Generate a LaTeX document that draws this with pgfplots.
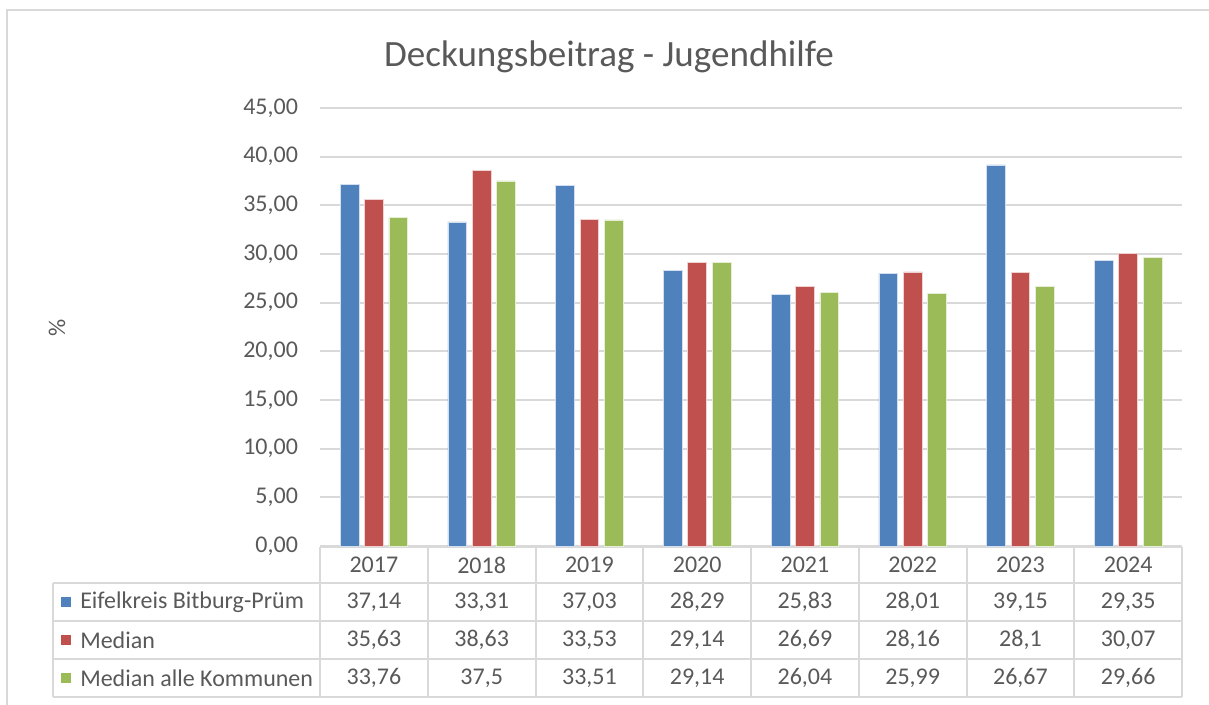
\documentclass[border=0pt]{standalone}
\usepackage{pgfplots}
\pgfplotsset{compat=1.18}
\usepackage{fontspec}
\setmainfont{Carlito}
\definecolor{cblue}{HTML}{4F81BD}
\definecolor{cred}{HTML}{C0504D}
\definecolor{cgreen}{HTML}{9BBB59}
\definecolor{gridc}{HTML}{D9D9D9}
\definecolor{txt}{HTML}{595959}
\begin{document}
\begin{tikzpicture}
\begin{scope}[x=0.75pt,y=0.75pt]
\useasboundingbox (0,0) rectangle (1209,704);
\draw[gridc, line width=1.5pt] (7,-5) -- (7,694) -- (1215,694);
\node[text=txt, font=\fontsize{27.8}{32}\selectfont] at (609,647) {Deckungsbeitrag - Jugendhilfe};
\node[text=txt, rotate=90, font=\fontsize{18}{20}\selectfont] at (57,376) {\%};
% table grid
\begin{scope}[gridc, line width=1.5pt]
\draw (320,157) -- (1182,157);
\foreach \yy in {121,83,45,7} {\draw (53,\yy) -- (1182,\yy);}
\draw (53,121) -- (53,7);
\foreach \xx in {320,427.75,535.5,643.25,751,858.75,966.5,1074.25,1182} {\draw (\xx,157) -- (\xx,7);}
\end{scope}
\begin{scope}[font=\fontsize{18}{21}\selectfont, text=txt]
\foreach \yr [count=\i from 0] in {2017,2018,2019,2020,2021,2022,2023,2024} {
  \node at ({373.9+107.75*\i},139) {\yr};
}
\foreach \v [count=\i from 0] in {37{,}14,33{,}31,37{,}03,28{,}29,25{,}83,28{,}01,39{,}15,29{,}35} {
  \node at ({373.9+107.75*\i},102) {\v};
}
\foreach \v [count=\i from 0] in {35{,}63,38{,}63,33{,}53,29{,}14,26{,}69,28{,}16,28{,}1,30{,}07} {
  \node at ({373.9+107.75*\i},64) {\v};
}
\foreach \v [count=\i from 0] in {33{,}76,37{,}5,33{,}51,29{,}14,26{,}04,25{,}99,26{,}67,29{,}66} {
  \node at ({373.9+107.75*\i},26) {\v};
}
\fill[cblue] (61,97) rectangle (71,107);
\fill[cred] (61,59) rectangle (71,69);
\fill[cgreen] (61,21) rectangle (71,31);
\node[anchor=west, inner sep=0pt] at (80,102) {Eifelkreis Bitburg-Prüm};
\node[anchor=west, inner sep=0pt] at (80,64) {Median};
\node[anchor=west, inner sep=0pt] at (80,26) {Median alle Kommunen};
\end{scope}
\end{scope}
\begin{axis}[
  scale only axis, width=646.5pt, height=328.5pt,
  at={(240pt,118.5pt)}, anchor=south west,
  xmin=-0.5, xmax=7.5, ymin=0, ymax=45,
  ytick={0,5,...,45}, xtick=\empty,
  ybar=0pt,
  axis line style={draw=none},
  ymajorgrids, grid style={gridc, line width=1.5pt},
  major tick length=0pt,
  yticklabel style={text=txt, font=\fontsize{18}{20}\selectfont, xshift=-13pt},
  /pgf/number format/.cd, fixed, fixed zerofill, precision=2, use comma, assume math mode=true,
]
\addplot[fill=cblue, draw=white!75!cblue, bar width=0.174, bar shift=-0.2255] coordinates {(0,37.14) (1,33.31) (2,37.03) (3,28.29) (4,25.83) (5,28.01) (6,39.15) (7,29.35)};
\addplot[fill=cred, draw=white!75!cred, bar width=0.174, bar shift=0] coordinates {(0,35.63) (1,38.63) (2,33.53) (3,29.14) (4,26.69) (5,28.16) (6,28.1) (7,30.07)};
\addplot[fill=cgreen, draw=white!75!cgreen, bar width=0.174, bar shift=0.2255] coordinates {(0,33.76) (1,37.5) (2,33.51) (3,29.14) (4,26.04) (5,25.99) (6,26.67) (7,29.66)};
\end{axis}
\end{tikzpicture}
\end{document}
